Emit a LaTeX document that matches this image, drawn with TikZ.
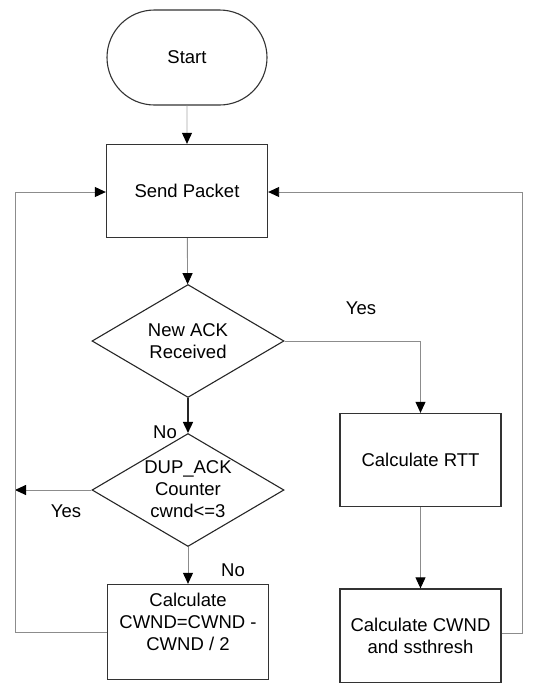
\documentclass[tikz,border=0pt]{standalone}
\usepackage{fontspec}
\setmainfont{Liberation Sans}
\usetikzlibrary{shapes.geometric,shapes.misc,arrows.meta}
\begin{document}
\begin{tikzpicture}[x=1pt,y=-1pt,
  every node/.style={font=\fontsize{18.5}{22}\selectfont},
  box/.style={draw=black!80,line width=1.3pt,rectangle,minimum width=161pt,minimum height=93pt,inner sep=0pt,align=center},
  term/.style={draw=black!80,line width=1.1pt,rounded rectangle,minimum width=160pt,minimum height=95pt,inner sep=0pt},
  dia/.style={draw=black!85,line width=1.1pt,diamond,minimum width=192pt,minimum height=113pt,inner sep=0pt},
  conn/.style={draw=black!45,line width=0.9pt},
  arr/.style={conn,-{Triangle[length=11pt,width=10pt,black]}},
  lbl/.style={inner sep=0pt}
]
\useasboundingbox (0,0) rectangle (553,683);
\node[term] (start) at (187,57.5) {Start};
\node[box] (send) at (187,191) {Send Packet};
\node[dia] (d1) at (188,341) {};
\node[align=center] at (188,341) {New ACK\\Received};
\node[dia] (d2) at (188,490) {};
\node[align=center] at (188,489) {DUP\_ACK\\Counter\\cwnd<=3};
\node[box,minimum height=95pt] (cw) at (188,632) {};
\node[align=center] at (188,622) {Calculate\\CWND=CWND -\\CWND / 2};
\node[box] (rtt) at (420.5,460) {Calculate RTT};
\node[box,minimum height=94pt] (ss) at (420.5,636) {Calculate CWND\\and ssthresh};
\coordinate (lyes) at (15,490);
\coordinate (lbot) at (15,632);
\coordinate (ltop) at (15,192);
\coordinate (rbot) at (522,633);
\coordinate (rtop) at (522,192);

\draw[arr,draw=black!35] (start) -- (send);
\draw[arr] (send) -- (d1);
\draw[arr] (d1.east) -| (rtt.north);
\draw[arr,draw=black!85,line width=1.6pt] (d1.south) -- (d2.north);
\draw[arr] (d2.west) -- (lyes);
\draw[arr] (d2.south) -- (cw.north);
\draw[conn] (cw.west) -- (lbot) -- (ltop);
\draw[arr] (ltop) -- (send.west |- ltop);
\draw[arr] (rtt) -- (ss);
\draw[conn] (ss.east |- rbot) -- (rbot) -- (rtop);
\draw[arr] (rtop) -- (send.east |- rtop);

\node[lbl] at (361,308) {Yes};
\node[lbl] at (165,432) {No};
\node[lbl] at (66,511) {Yes};
\node[lbl] at (233,570) {No};
\end{tikzpicture}
\end{document}
